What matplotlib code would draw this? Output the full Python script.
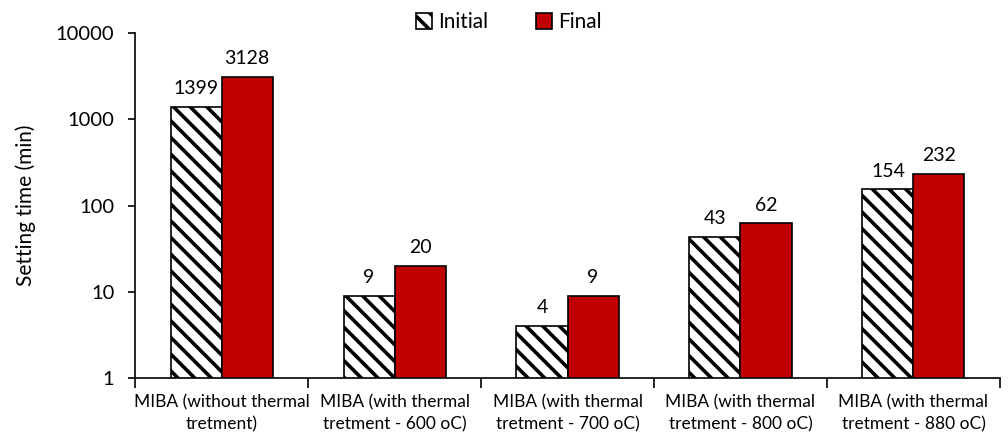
import matplotlib
matplotlib.use("Agg")
import matplotlib.pyplot as plt
import numpy as np

plt.rcParams['font.family'] = ['Lato', 'DejaVu Sans']
plt.rcParams['hatch.linewidth'] = 2.6

categories = ["MIBA (without thermal\ntretment)",
              "MIBA (with thermal\ntretment - 600 oC)",
              "MIBA (with thermal\ntretment - 700 oC)",
              "MIBA (with thermal\ntretment - 800 oC)",
              "MIBA (with thermal\ntretment - 880 oC)"]
initial = [1399, 9, 4, 43, 154]
final = [3128, 20, 9, 62, 232]

fig = plt.figure(figsize=(10.08, 4.36), dpi=100)
ax = fig.add_axes([0.134, 0.133, 0.858, 0.791])

x = np.arange(len(categories))
w = 0.295
b1 = ax.bar(x - w/2, initial, w, color="white", edgecolor="black", hatch="\\\\", linewidth=1.2, label="Initial")
b2 = ax.bar(x + w/2, final, w, color="#c00000", edgecolor="black", linewidth=1.2, label="Final")

for bars, vals in ((b1, initial), (b2, final)):
    for r, v in zip(bars, vals):
        ax.annotate(str(v), (r.get_x() + r.get_width()/2, v), xytext=(0, 7),
                    textcoords="offset points", ha="center", va="bottom", fontsize=14)

ax.set_yscale("log")
ax.set_ylim(1, 10000)
ax.set_yticks([1, 10, 100, 1000, 10000])
ax.set_yticklabels(["1", "10", "100", "1000", "10000"], fontsize=14.5)
ax.yaxis.set_minor_locator(matplotlib.ticker.NullLocator())
ax.set_ylabel("Setting time (min)", fontsize=15, labelpad=14)

ax.set_xlim(-0.5, len(categories) - 0.5)
ax.set_xticks(x)
ax.set_xticklabels(categories, fontsize=12.5, linespacing=1.45)
ax.tick_params(axis="x", length=0, pad=12)
ax.set_xticks(np.arange(len(categories) + 1) - 0.5, minor=True)
ax.tick_params(axis="x", which="minor", length=7, width=1.2)
ax.tick_params(axis="y", length=5, width=1.2, direction="out", pad=10)

for s in ("top", "right"):
    ax.spines[s].set_visible(False)
for s in ("left", "bottom"):
    ax.spines[s].set_linewidth(1.2)

fig.legend(loc="upper center", bbox_to_anchor=(0.505, 1.015), ncol=2, frameon=False,
           fontsize=15, handlelength=0.75, handleheight=0.75, columnspacing=2.3, handletextpad=0.3)

fig.savefig("out.png", dpi=100)
